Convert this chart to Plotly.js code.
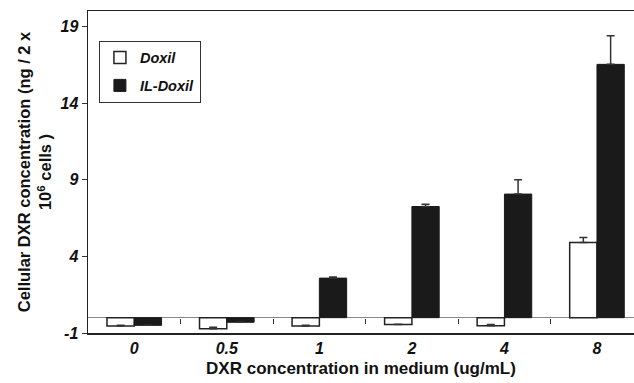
<!DOCTYPE html>
<html>
<head>
<meta charset="utf-8">
<script src="https://cdn.plot.ly/plotly-3.0.1.min.js"></script>
<style>html,body{margin:0;padding:0;background:#fff;}#chart{width:634px;height:383px;}</style>
</head>
<body>
<div id="chart"></div>
<script>
const categories = ["0", "0.5", "1", "2", "4", "8"];
const doxil = [-0.55, -0.72, -0.55, -0.45, -0.52, 4.9];
const doxilErr = [0.05, 0.1, 0.05, 0.02, 0.08, 0.33];
const ilDoxil = [-0.5, -0.3, 2.58, 7.25, 8.06, 16.52];
const ilDoxilErr = [0.02, 0.02, 0.07, 0.15, 0.93, 1.87];
const yTicks = [-1, 4, 9, 14, 19];
const betweenTicks = [0.5, 1.5, 2.5, 3.5, 4.5];
const yRange = [-1, 20];
const xRange = [-0.5, 5.4];

const fontFam = "Liberation Sans, Arial, sans-serif";
const idx = categories.map((c, i) => i);

const traces = [
  {
    type: "bar", name: "<i>Doxil</i>", x: idx, y: doxil, legendgroup: "a",
    marker: {color: "#ffffff", line: {color: "#222222", width: 1.5}},
    error_y: {type: "data", array: doxilErr, arrayminus: doxil.map(() => 0), symmetric: false,
              color: "#333333", thickness: 1.5, width: 4}
  },
  {
    type: "bar", name: "<i>IL-Doxil</i>", x: idx, y: ilDoxil, legendgroup: "b",
    marker: {color: "#1a1a1a", line: {color: "#1a1a1a", width: 1}},
    error_y: {type: "data", array: ilDoxilErr, arrayminus: ilDoxil.map(() => 0), symmetric: false,
              color: "#333333", thickness: 1.5, width: 4}
  },
  {
    type: "scatter", x: [xRange[0]], y: [0], xaxis: "x2", mode: "markers",
    marker: {opacity: 0}, showlegend: false, hoverinfo: "skip"
  }
];

const zeroPos = (0 - yRange[0]) / (yRange[1] - yRange[0]);

const layout = {
  width: 634, height: 383,
  margin: {l: 88, r: 0, t: 11, b: 50},
  paper_bgcolor: "#ffffff", plot_bgcolor: "#ffffff",
  barmode: "group", bargap: 0.41, bargroupgap: 0,
  font: {family: fontFam, color: "#111111"},
  showlegend: true,
  legend: {
    x: 0.02, y: 0.908, xanchor: "left", yanchor: "top",
    bgcolor: "#ffffff", bordercolor: "#333333", borderwidth: 1,
    font: {family: fontFam, size: 14.5, weight: "bold", color: "#111111"},
    traceorder: "grouped", tracegroupgap: 6, itemwidth: 30
  },
  xaxis: {
    range: xRange, tickvals: idx, ticktext: categories.map(c => "<b><i>" + c + "</i></b>"),
    ticks: "", showline: true, linecolor: "#222222", linewidth: 1.5, mirror: true,
    showgrid: false, zeroline: false, fixedrange: true,
    tickfont: {family: fontFam, size: 16, color: "#111111"},
    title: {text: "<b>DXR concentration in medium (ug/mL)</b>", font: {family: fontFam, size: 17, color: "#111111"}, standoff: 6}
  },
  xaxis2: {
    range: xRange, overlaying: "x", anchor: "free", position: zeroPos,
    tickvals: betweenTicks, showticklabels: false, ticks: "outside", ticklen: 5,
    tickwidth: 1, tickcolor: "#333333", showline: false, showgrid: false, zeroline: false
  },
  yaxis: {
    range: yRange, tickvals: yTicks, ticktext: yTicks.map(v => "<b><i>" + v + "</i></b>"),
    ticks: "outside", ticklen: 5, tickcolor: "#333333",
    showline: true, linecolor: "#222222", linewidth: 1.5,
    showgrid: false, zeroline: true, zerolinecolor: "#888888", zerolinewidth: 1,
    tickfont: {family: fontFam, size: 16, color: "#111111"},
    title: {text: "<b>Cellular DXR concentration (ng / 2 x<br>10<sup>6</sup> cells )</b>", font: {family: fontFam, size: 16.5, color: "#111111"}, standoff: 4}
  }
};

Plotly.newPlot("chart", traces, layout, {staticPlot: true, displayModeBar: false});
</script>
</body>
</html>
